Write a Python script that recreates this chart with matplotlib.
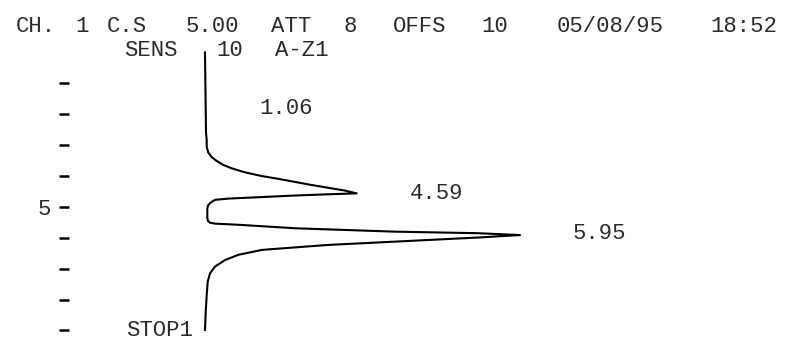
"""Integrator printout of a two-peak chromatogram (time runs down the page)."""

import matplotlib

matplotlib.use("Agg")
import matplotlib.pyplot as plt

# trace: retention time (min) and pen deflection (div)
time_min = [0.00, 2.60, 2.83, 3.05, 3.24, 3.39, 3.51, 3.64, 3.75, 3.88, 4.00, 4.09,
            4.19, 4.29, 4.38, 4.47, 4.56, 4.59, 4.63, 4.68, 4.73, 4.77, 4.83, 4.88,
            4.95, 5.05, 5.36, 5.45, 5.51, 5.54, 5.58, 5.69, 5.80, 5.85, 5.91, 5.99,
            6.07, 6.23, 6.39, 6.55, 6.72, 6.93, 7.15, 7.42, 7.85, 8.39, 8.98]
signal = [0.0, 0.1, 0.17, 0.17, 0.33, 0.67, 1.17, 1.83, 2.67, 4.0, 5.67, 7.33,
          9.0, 10.67, 12.33, 14.0, 15.17, 12.33, 9.0, 5.67, 2.33, 1.0, 0.7, 0.5,
          0.3, 0.23, 0.23, 0.3, 0.5, 1.0, 3.5, 9.0, 19.0, 27.3, 31.5, 27.3,
          22.3, 12.3, 5.7, 3.33, 2.0, 1.0, 0.5, 0.27, 0.17, 0.07, 0.0]

tick_times = [1, 2, 3, 4, 5, 6, 7, 8, 9]
tick_labels = ["", "", "", "", "5", "", "", "", ""]

peak_labels = ["1.06", "4.59", "5.95"]
peak_label_times = [1.80, 4.55, 5.87]
peak_label_signal = [8.1, 23.2, 39.4]

header_line1 = ["CH.", "1", "C.S", "5.00", "ATT", "8", "OFFS", "10", "05/08/95", "18:52"]
header_line2 = ["SENS", "10", "A-Z1"]
stop_label = "STOP1"

W, H = 786, 341
FONT = "Liberation Mono"
FS = 16
INK = "#2a2a2a"


def main() -> None:
    fig = plt.figure(figsize=(W / 100, H / 100), dpi=100)
    ax = fig.add_axes([64 / W, 0, 1 - 64 / W, 1])
    ax.plot(signal, time_min, color="black", lw=1.5, solid_joinstyle="round")
    ax.set_xlim(-14.1, 58.1)
    ax.set_ylim(9.34, -1.70)
    for s in ax.spines.values():
        s.set_visible(False)
    ax.set_xticks([])
    ax.set_yticks(tick_times)
    ax.set_yticklabels(tick_labels, family=FONT, fontsize=FS, color=INK)
    ax.tick_params(axis="y", direction="inout", length=7, width=1.8, pad=6, color="black")
    ax.patch.set_alpha(0)

    for lab, t, s in zip(peak_labels, peak_label_times, peak_label_signal):
        ax.text(s, t, lab, family=FONT, fontsize=FS, color=INK, ha="center", va="center")
    ax.text(-4.5, 9.01, stop_label, family=FONT, fontsize=FS, color=INK, ha="center", va="center")

    # token centres in pixels, as printed
    x1 = [36, 82, 127, 212, 291, 350, 420, 495, 610, 744]
    for tok, x in zip(header_line1, x1):
        fig.text(x / W, 1 - 27 / H, tok, family=FONT, fontsize=FS, color=INK, ha="center", va="center")
    x2 = [151, 230, 302]
    for tok, x in zip(header_line2, x2):
        fig.text(x / W, 1 - 50 / H, tok, family=FONT, fontsize=FS, color=INK, ha="center", va="center")

    fig.savefig("out.png", dpi=100, facecolor="white")


if __name__ == "__main__":
    main()
